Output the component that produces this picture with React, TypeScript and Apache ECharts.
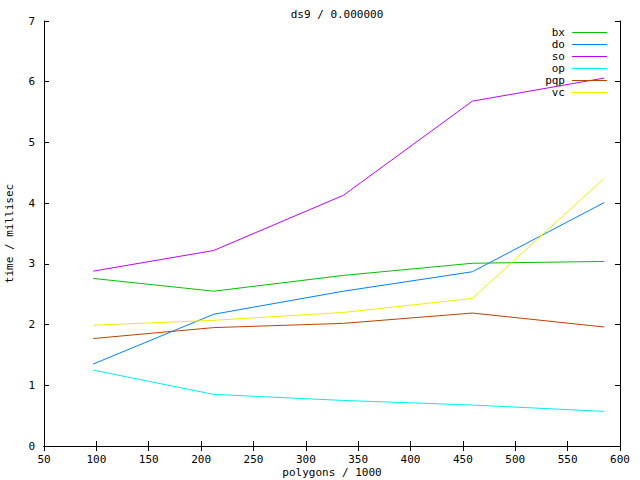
import React, { useEffect, useRef } from "react";
import * as echarts from "echarts";

const polygons = [97, 212, 336, 459, 585];
const seriesNames = ["bx", "do", "so", "op", "pqp", "vc"];
const bx = [2.76, 2.55, 2.81, 3.01, 3.04];
const doVals = [1.35, 2.17, 2.55, 2.87, 4.01];
const so = [2.88, 3.22, 4.13, 5.68, 6.06];
const op = [1.25, 0.85, 0.75, 0.675, 0.57];
const pqp = [1.77, 1.95, 2.02, 2.19, 1.96];
const vc = [1.99, 2.07, 2.2, 2.43, 4.41];
const colors = ["#00c000", "#0080ff", "#c000ff", "#00eeee", "#c04000", "#eeee00"];

const FONT = "DejaVu Sans Mono";

export default function App() {
  const ref = useRef<HTMLDivElement>(null);
  useEffect(() => {
    if (!ref.current) return;
    const chart = echarts.init(ref.current, null, { renderer: "svg" });
    const values = [bx, doVals, so, op, pqp, vc];
    const textBase = { fontFamily: FONT, fontSize: 11, color: "#000" };
    const axisCommon = {
      axisLine: { show: true, lineStyle: { color: "#000", width: 1 } },
      axisTick: { show: true, inside: true, length: 5, lineStyle: { color: "#000" } },
      splitLine: { show: false },
    };
    chart.setOption({
      animation: false,
      backgroundColor: "#fff",
      color: colors,
      title: {
        text: "ds9 / 0.000000",
        left: 332,
        textAlign: "center",
        top: 4,
        textStyle: { ...textBase, fontWeight: "normal" },
      },
      legend: {
        orient: "vertical",
        right: 33,
        top: 26.5,
        padding: 0,
        align: "right",
        icon: "rect",
        itemWidth: 35,
        itemHeight: 1,
        itemGap: 0,
        data: seriesNames.map((name, i) => ({
          name,
          itemStyle: { color: colors[i] },
        })),
        textStyle: { ...textBase, lineHeight: 12, padding: [0, 2, 0, 0] },
      },
      grid: { left: 44, right: 20, top: 21, bottom: 34, outerBoundsMode: "none", containLabel: false },
      xAxis: [
        {
          type: "value",
          min: 50,
          max: 600,
          interval: 50,
          name: "polygons / 1000",
          nameLocation: "middle",
          nameGap: 21,
          nameMoveOverlap: false,
          nameTextStyle: { ...textBase, lineHeight: 11 },
          axisLabel: { ...textBase, margin: 8 },
          ...axisCommon,
        },
        {
          type: "value",
          position: "top",
          min: 50,
          max: 600,
          interval: 50,
          axisLabel: { show: false },
          ...axisCommon,
        },
      ],
      yAxis: [
        {
          type: "value",
          min: 0,
          max: 7,
          interval: 1,
          name: "time / millisec",
          nameLocation: "middle",
          nameGap: 29,
          nameMoveOverlap: false,
          nameTextStyle: textBase,
          axisLabel: { ...textBase, margin: 9 },
          ...axisCommon,
        },
        {
          type: "value",
          position: "right",
          min: 0,
          max: 7,
          interval: 1,
          axisLabel: { show: false },
          ...axisCommon,
        },
      ],
      series: seriesNames.map((name, i) => ({
        name,
        type: "line",
        showSymbol: false,
        symbol: "none",
        lineStyle: { width: 1, color: colors[i] },
        itemStyle: { color: colors[i] },
        data: polygons.map((x, j) => [x, values[i][j]]),
      })),
    });
    return () => chart.dispose();
  }, []);
  return (
    <div
      ref={ref}
      style={{ position: "fixed", left: 0, top: 0, width: 640, height: 480 }}
    />
  );
}
